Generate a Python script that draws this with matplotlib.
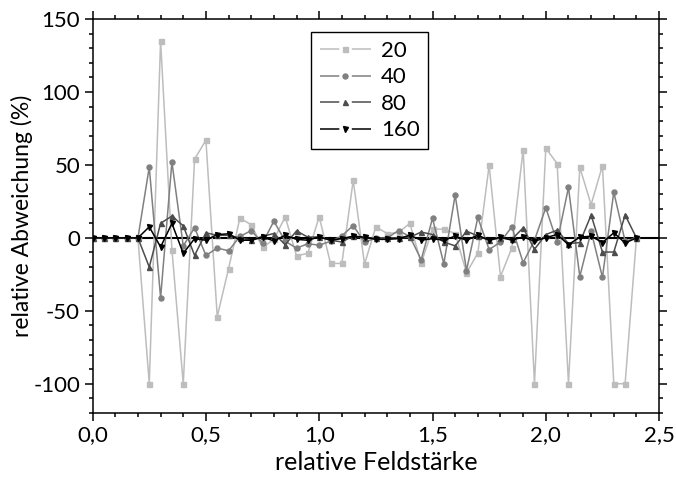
import numpy as np
import matplotlib
matplotlib.use("Agg")
import matplotlib.pyplot as plt
from matplotlib.lines import Line2D
from matplotlib.ticker import MultipleLocator, FuncFormatter

plt.rcParams['font.family'] = ['Lato', 'DejaVu Sans']
plt.rcParams['axes.unicode_minus'] = False
plt.rcParams['lines.scale_dashes'] = False

# relative field strength, 0 ... 2.4 in steps of 0.05
feld = np.linspace(0, 2.4, 49)

labels = ['20', '40', '80', '160']

abw_20 = [0, 0, 0, 0, 0, -100, 135, -8, -100, 54, 67, -54, -21, 13.6, 9, -6.5,
          -1, 14.5, -12.4, -10.5, 14.5, -17.5, -17.5, 39.5, -18, 7.6, 3, 3.7, 10,
          -17.5, 6, 6, 3, -24, -10.4, 49.8, -26.5, -7, 60.6, -100, 61.5, 51,
          -100, 48.4, 22.8, 49.6, -100, -100, 0]
abw_40 = [0, 0, 0, 0, 0, 48.6, -41, 52, -5.5, 7, -12, -7, -8.8, 1, 5, -3.5,
          11.5, -2.3, -7, -4, -5, -2.3, 1.4, 8.5, -3, 0, 0, 5, 1, -15, 13.4,
          -17.7, 29.5, -22.4, 14, -8, -2.8, 7.6, -17, -1.6, 20.7, -2.8, 34.6,
          -26.5, 4.6, -27, 31.4, -2.3, 0]
abw_80 = [0, 0, 0, 0, 0, -20, 10, 15, 8.3, -12, 3.5, 1.8, 1.8, 0, -1.6, 1.1,
          3, -4.6, 4.8, 0.5, 0.7, -1.6, -2.8, 1.4, 0, 0, 0, 0, 0.5, 4, 2.3,
          -2.8, -5.5, 4.6, 1.4, -1.6, 0, -1, 6.9, -7.8, 2.3, 5.3, -3.9, -3.2,
          15.7, -9.7, -9.7, 15.7, 0]
abw_160 = [0, 0, 0, 0, 0, 7.6, -6.2, 9.9, -10.6, -0.5, -1.6, 2.3, 2.8, -1.6,
           -1.6, 0.5, -2, 1.8, -1, -1.6, 0.7, -1.6, -0.5, 1.2, 0.5, -1, -1,
           -0.5, 1.8, -1.6, -0.5, -1.6, 1.2, -1.6, 1.8, -1.6, 0.5, -1.6, 0.7,
           -2.3, 0.2, 2.3, -4.6, 0.5, 1.2, -3.2, 3.5, -3.5, 0]

series = [abw_20, abw_40, abw_80, abw_160]
colors = ['#bdbdbd', '#808080', '#4d4d4d', '#000000']
markers = ['s', 'o', '^', 'v']

fig = plt.figure(figsize=(6.76, 4.79), dpi=100)
ax = fig.add_axes([0.137, 0.138, 0.838, 0.822])

ax.axhline(0, color='black', lw=1.5, zorder=1)
for y, c, m, lab in zip(series, colors, markers, labels):
    ax.plot(feld, y, color=c, marker=m, ms=3.6, lw=1.1, label=lab, zorder=2)

ax.set_xlim(0, 2.5)
ax.set_ylim(-120, 150)
ax.xaxis.set_major_locator(MultipleLocator(0.5))
ax.xaxis.set_minor_locator(MultipleLocator(0.1))
ax.yaxis.set_major_locator(MultipleLocator(50))
ax.yaxis.set_minor_locator(MultipleLocator(10))
ax.xaxis.set_major_formatter(FuncFormatter(lambda v, p: ('%.1f' % v).replace('.', ',')))
ax.tick_params(which='both', direction='out', top=True, right=True,
               labelsize=16, width=1.1)
ax.tick_params(which='major', length=5.5)
ax.tick_params(which='minor', length=3)
for s in ax.spines.values():
    s.set_linewidth(1.1)

ax.set_xlabel('relative Feldstärke', fontsize=18)
ax.set_ylabel('relative Abweichung (%)', fontsize=16.5, labelpad=0)

# legend handles: line - gap - marker - gap - line
hl = 2.3 * 16
gap = 9.0
seg = (hl - gap) / 2
handles = [Line2D([], [], color=c, lw=1.1, ls=(0, (seg, gap, seg, 0.01)),
                  marker=m, ms=3.6, mfc=c, mec=c)
           for c, m in zip(colors, markers)]
leg = ax.legend(handles, labels, loc='upper left', bbox_to_anchor=(0.385, 0.967),
                borderaxespad=0, fontsize=16, handlelength=2.3, handletextpad=0.45,
                labelspacing=0.29, fancybox=False, edgecolor='black',
                framealpha=1, borderpad=0.4)
leg.get_frame().set_linewidth(1.0)

fig.savefig('out.png', dpi=100)
